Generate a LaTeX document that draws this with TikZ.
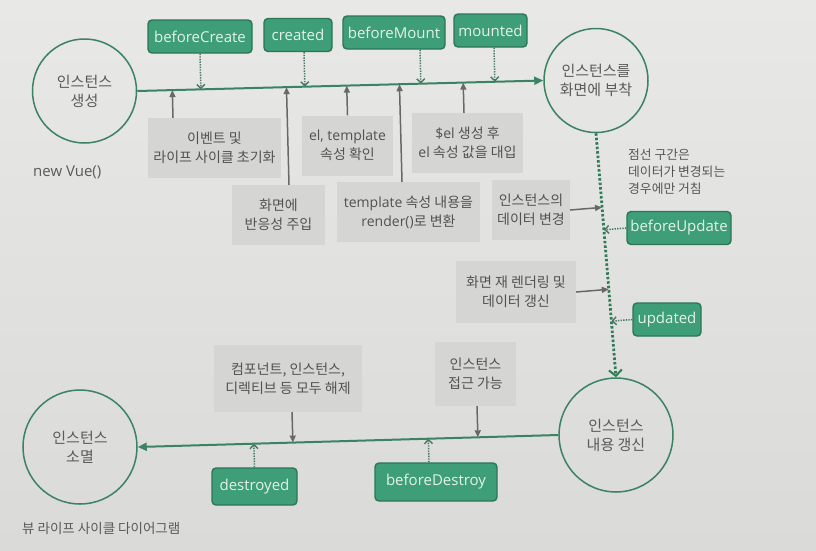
\documentclass[tikz,border=0pt]{standalone}
\usepackage{fontspec}
\setmainfont{Noto Sans CJK KR}
\newfontfamily\lat{Open Sans}
\usetikzlibrary{arrows.meta,calc}
\definecolor{bgtop}{HTML}{E8E8E6}
\definecolor{bgbot}{HTML}{DADAD8}
\definecolor{gfill}{HTML}{3E9E78}
\definecolor{gborder}{HTML}{2B7656}
\definecolor{gtext}{HTML}{E4F2EA}
\definecolor{gbox}{HTML}{D5D5D3}
\definecolor{gtexttwo}{HTML}{525252}
\definecolor{lc}{HTML}{3B8362}
\definecolor{ctext}{HTML}{5A5A5A}
\definecolor{arrgray}{HTML}{686868}
\definecolor{dotc}{HTML}{477A60}
\definecolor{vdc}{HTML}{2F7C57}
\definecolor{antext}{HTML}{555555}
\definecolor{captext}{HTML}{5A5A5A}
\tikzset{
  grn/.style={draw=gborder, fill=gfill, rounded corners=4pt, line width=1.4pt, text=gtext,
    font=\lat\fontsize{15}{18}\selectfont, minimum height=33pt, inner sep=2pt},
  gry/.style={fill=gbox, text=gtexttwo, font=\fontsize{14}{19}\selectfont, align=center,
    minimum height=60pt, inner sep=2pt},
  circ/.style={circle, draw=lc, line width=1.5pt, text=ctext, font=\fontsize{15}{19}\selectfont,
    align=center, inner sep=0pt, minimum size=104pt},
  mainln/.style={draw=lc, line width=2pt, -{Triangle[length=9pt,width=8pt]}},
  garr/.style={draw=arrgray, line width=1.5pt, -{Triangle[length=7pt,width=6pt]}},
  dotarr/.style={draw=dotc, line width=1.5pt, dash pattern=on 1.4pt off 1.2pt,
    -{Straight Barb[length=4pt,width=8pt,line width=1.4pt]}},
  vdot/.style={draw=vdc, line width=2.8pt, dash pattern=on 2.5pt off 2pt,
    -{Straight Barb[length=6pt,width=13pt,line width=2pt]}}
}
\begin{document}
\begin{tikzpicture}[x=1pt,y=-1pt]
\useasboundingbox (0,0) rectangle (816,550);
\shade[top color=bgtop, bottom color=bgbot] (0,0) rectangle (816,550);

% circles
\node[circ] (c1) at (84.5,91) {인스턴스\\생성};
\node[circ] (c2) at (596,80.5) {인스턴스를\\화면에 부착};
\node[circ, minimum size=114pt] (c3) at (616,435) {인스턴스\\내용 갱신};
\node[circ, minimum size=114pt] (c4) at (80,447) {인스턴스\\소멸};

% green hook boxes
\node[grn, minimum width=104pt] (bc) at (200,36.5) {beforeCreate};
\node[grn, minimum width=68pt] (cr) at (298,35) {created};
\node[grn, minimum width=102pt] (bm) at (394,32.5) {beforeMount};
\node[grn, minimum width=73pt] (mt) at (490.5,30.5) {mounted};
\node[grn, minimum width=104pt] (bu) at (679,228) {beforeUpdate};
\node[grn, minimum width=68pt] (up) at (667,319.5) {updated};
\node[grn, minimum width=85pt, minimum height=37pt] (ds) at (254.5,486.5) {destroyed};
\node[grn, minimum width=122pt, minimum height=38pt] (bd) at (436,482) {beforeDestroy};

% gray step boxes
\node[gry, minimum width=133pt] (g1) at (214.5,148) {이벤트 및\\라이프 사이클 초기화};
\node[gry, minimum width=93pt] (g2) at (278.5,215) {화면에\\반응성 주입};
\node[gry, minimum width=91pt] (g3) at (347.5,145.5) {{\lat el, template}\\속성 확인};
\node[gry, minimum width=143pt] (g4) at (408.5,212) {{\lat template} 속성 내용을\\{\lat render()}로 변환};
\node[gry, minimum width=111pt] (g5) at (467.5,143) {{\lat \$el} 생성 후\\{\lat el} 속성 값을 대입};
\node[gry, minimum width=78pt] (g6) at (531,210) {인스턴스의\\데이터 변경};
\node[gry, minimum width=120pt, minimum height=62pt] (g7) at (516,292) {화면 재 렌더링 및\\데이터 갱신};
\node[gry, minimum width=148pt, minimum height=67pt] (g8) at (288,378.5) {컴포넌트, 인스턴스,\\디렉티브 등 모두 해제};
\node[gry, minimum width=81pt, minimum height=64pt] (g9) at (475.5,374) {인스턴스\\접근 가능};

% free texts
\node[anchor=north west, inner sep=0pt, align=left, font=\fontsize{12.8}{17}\selectfont, text=antext] (note) at (628,149) {점선 구간은\\데이터가 변경되는\\경우에만 거침};
\node[anchor=west, inner sep=0pt, font=\fontsize{13.5}{15}\selectfont, text=captext] (cap) at (22,528) {뷰 라이프 사이클 다이어그램};
\node[anchor=west, inner sep=0pt, font=\lat\fontsize{15}{17}\selectfont, text=captext] (nv) at (33,172) {new Vue()};

% main lines
\draw[mainln] (c1.east) -- (c2.west);
\draw[vdot] (c2.south) -- (c3.north);
\draw[mainln] (c3.west) -- (c4.east);

% top: gray up arrows
\coordinate (s1) at ($(g1.north)+(-41.5,0)$);
\coordinate (s2) at ($(g2.north)+(10.5,0)$);
\coordinate (s3) at (g3.north);
\coordinate (s4) at ($(g4.north)+(-6.5,0)$);
\coordinate (s5) at ($(g5.north)+(-3.5,0)$);
\foreach \s in {s1,s2,s3,s4,s5}
  \draw[garr] (\s) -- ($(c1.east)!(\s)!(c2.west)$);

% top: hook dotted arrows
\coordinate (t1) at (bc.south);
\coordinate (t2) at ($(cr.south)+(6,0)$);
\coordinate (t3) at ($(bm.south)+(26,0)$);
\coordinate (t4) at ($(mt.south)+(3.5,0)$);
\foreach \t in {t1,t2,t3,t4}
  \draw[dotarr] (\t) -- ($(c1.east)!(\t)!(c2.west)$);

% right side
\draw[garr] (g6.east) -- ($(c2.south)!(g6.east)!(c3.north)$);
\draw[dotarr] (bu.west) -- ($(c2.south)!(bu.west)!(c3.north)$);
\draw[garr] (g7.east) -- ($(c2.south)!(g7.east)!(c3.north)$);
\draw[dotarr] (up.west) -- ($(c2.south)!(up.west)!(c3.north)$);

% bottom
\coordinate (b1) at ($(g8.south)+(4,0)$);
\coordinate (b2) at ($(g9.south)+(1.5,0)$);
\draw[garr] (b1) -- ($(c3.west)!(b1)!(c4.east)$);
\draw[garr] (b2) -- ($(c3.west)!(b2)!(c4.east)$);
\coordinate (b3) at (ds.north);
\coordinate (b4) at ($(bd.north)+(-7,0)$);
\draw[dotarr] (b3) -- ($(c3.west)!(b3)!(c4.east)$);
\draw[dotarr] (b4) -- ($(c3.west)!(b4)!(c4.east)$);
\end{tikzpicture}
\end{document}
